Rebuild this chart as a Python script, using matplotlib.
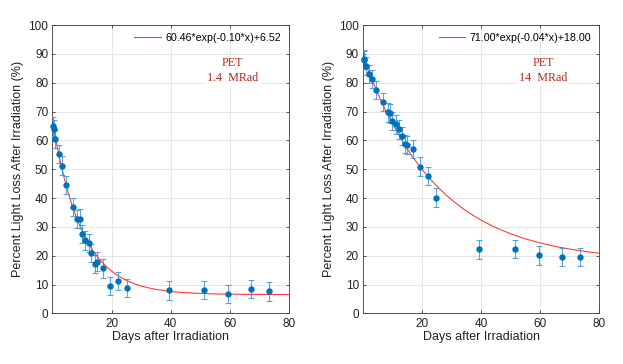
#!/usr/bin/env python3
"""Light loss after irradiation for PET samples: two panels with exponential fits."""

import matplotlib
matplotlib.use("Agg")
import matplotlib.pyplot as plt
import numpy as np

# ---------------------------------------------------------------------------
# Data
# ---------------------------------------------------------------------------
LEFT_DAYS = [0.1, 0.5, 0.8, 2.1, 3.3, 4.5, 6.9, 8.3, 9.3, 10.1, 11.1, 12.5,
             13.1, 14.4, 15.1, 17.2, 19.6, 22.1, 25.2, 39.5, 51.3, 59.3,
             67.2, 73.2]
LEFT_LOSS = [64.9, 64.0, 60.5, 55.3, 51.3, 44.5, 37.0, 32.7, 32.9, 27.6, 25.3,
             24.4, 20.9, 17.1, 18.0, 15.6, 9.6, 11.2, 8.9, 8.0, 8.2, 6.8,
             8.5, 7.6]
LEFT_ERR = [3.2] * len(LEFT_DAYS)

RIGHT_DAYS = [0.1, 0.4, 0.8, 1.9, 3.0, 4.2, 6.6, 8.4, 9.0, 9.8, 11.0, 12.1,
              13.0, 14.1, 14.9, 16.9, 19.3, 21.8, 24.8, 39.4, 51.3, 59.5,
              67.2, 73.4]
RIGHT_LOSS = [88.1, 87.9, 85.9, 83.0, 81.3, 77.5, 73.4, 69.7, 69.4, 66.8, 65.6,
              63.8, 61.5, 58.7, 58.4, 57.0, 50.9, 47.7, 40.2, 22.2, 22.4, 20.1,
              19.5, 19.5]
RIGHT_ERR = [3.2] * len(RIGHT_DAYS)

# fit parameters a*exp(b*x)+c, as printed in the legends
LEFT_FIT = (60.46, -0.10, 6.52)
RIGHT_FIT = (71.00, -0.04, 18.00)

LEFT_NOTE = "PET\n1.4  MRad"
RIGHT_NOTE = "PET\n14  MRad"

X_TICKS = [20, 40, 60, 80]
Y_TICKS = list(range(0, 101, 10))

X_LABEL = "Days after Irradiation"
Y_LABEL = "Percent Light Loss After Irradiation (%)"

# ---------------------------------------------------------------------------
# Styling
# ---------------------------------------------------------------------------
MARKER_COLOR = "#0072BD"
ERR_COLOR = "#3d96d6"
FIT_COLOR = "#ff3b3b"
NOTE_COLOR = "#b3261e"
AXIS_COLOR = "#3a3a3a"
GRID_COLOR = "#e6e6e6"

plt.rcParams.update({
    "font.family": ["Liberation Sans", "DejaVu Sans"],
    "font.size": 8,
})


def draw_panel(ax, days, loss, err, fit, note):
    a, b, c = fit
    xf = np.linspace(0, 80, 300)
    label = f"{a:.2f}*exp({b:.2f}*x)+{c:.2f}"
    ax.plot(xf, a * np.exp(b * xf) + c, color=FIT_COLOR, lw=0.8,
            label=label, zorder=2)

    ax.errorbar(days, loss, yerr=err, fmt="none", ecolor=ERR_COLOR,
                elinewidth=0.8, capsize=2.2, capthick=0.8, zorder=3,
                alpha=0.85)
    ax.plot(days, loss, "o", color=MARKER_COLOR, markersize=4.6,
            markeredgewidth=0, zorder=4, clip_on=False)

    ax.set_xlim(0, 80)
    ax.set_ylim(0, 100)
    ax.set_xticks(X_TICKS)
    ax.set_yticks(Y_TICKS)
    ax.grid(True, color=GRID_COLOR, lw=0.7, zorder=0)
    ax.set_axisbelow(True)

    for sp in ax.spines.values():
        sp.set_color(AXIS_COLOR)
        sp.set_linewidth(0.6)
    ax.tick_params(direction="in", length=2.5, width=0.6, color=AXIS_COLOR,
                   labelcolor="#222222", labelsize=8.5, top=True, right=True,
                   pad=3)

    ax.set_xlabel(X_LABEL, fontsize=9, color="#222222", labelpad=1)
    ax.set_ylabel(Y_LABEL, fontsize=9, color="#222222", labelpad=3)

    leg = ax.legend(loc="upper right", fontsize=7.7, frameon=False,
                    handlelength=2.5, handletextpad=0.4,
                    borderaxespad=0.35)
    leg.set_zorder(5)

    ax.text(61, 84.3, note, ha="center", va="center", fontsize=8.7,
            family=["Liberation Serif", "DejaVu Serif"], color=NOTE_COLOR,
            linespacing=1.25, zorder=5,
            bbox=dict(facecolor="white", edgecolor="none", pad=1.5))


def main():
    fig = plt.figure(figsize=(6.23, 3.64), dpi=100)
    ax_l = fig.add_axes([0.084, 0.139, 0.380, 0.792])
    ax_r = fig.add_axes([0.583, 0.139, 0.379, 0.792])

    draw_panel(ax_l, LEFT_DAYS, LEFT_LOSS, LEFT_ERR, LEFT_FIT, LEFT_NOTE)
    draw_panel(ax_r, RIGHT_DAYS, RIGHT_LOSS, RIGHT_ERR, RIGHT_FIT, RIGHT_NOTE)

    fig.savefig("out.png", dpi=100)


if __name__ == "__main__":
    main()
